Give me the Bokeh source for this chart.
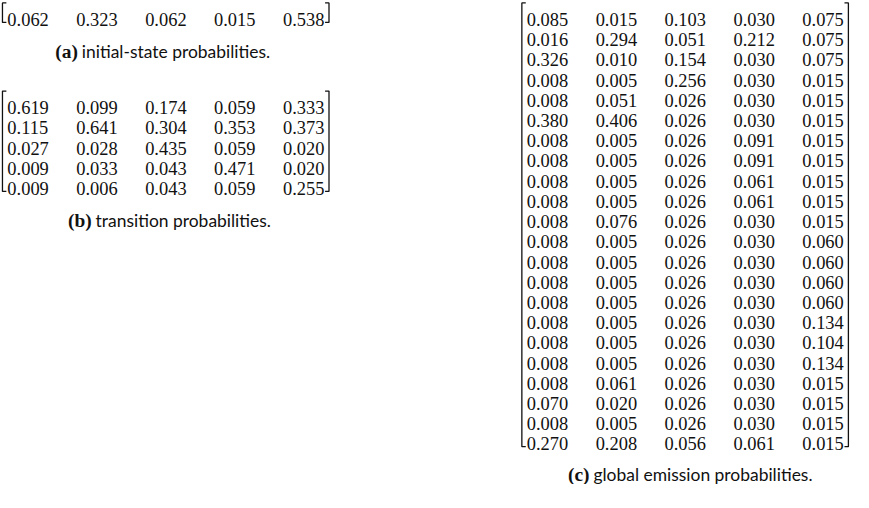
from bokeh.plotting import figure
from bokeh.models import Range1d, ColumnDataSource
from bokeh.core.properties import value
from bokeh.embed import file_html
from bokeh.resources import INLINE

# ---------------- data ----------------
initial_state = [0.062, 0.323, 0.062, 0.015, 0.538]

transition = [
    [0.619, 0.099, 0.174, 0.059, 0.333],
    [0.115, 0.641, 0.304, 0.353, 0.373],
    [0.027, 0.028, 0.435, 0.059, 0.020],
    [0.009, 0.033, 0.043, 0.471, 0.020],
    [0.009, 0.006, 0.043, 0.059, 0.255],
]

emission = [
    [0.085, 0.015, 0.103, 0.030, 0.075],
    [0.016, 0.294, 0.051, 0.212, 0.075],
    [0.326, 0.010, 0.154, 0.030, 0.075],
    [0.008, 0.005, 0.256, 0.030, 0.015],
    [0.008, 0.051, 0.026, 0.030, 0.015],
    [0.380, 0.406, 0.026, 0.030, 0.015],
    [0.008, 0.005, 0.026, 0.091, 0.015],
    [0.008, 0.005, 0.026, 0.091, 0.015],
    [0.008, 0.005, 0.026, 0.061, 0.015],
    [0.008, 0.005, 0.026, 0.061, 0.015],
    [0.008, 0.076, 0.026, 0.030, 0.015],
    [0.008, 0.005, 0.026, 0.030, 0.060],
    [0.008, 0.005, 0.026, 0.030, 0.060],
    [0.008, 0.005, 0.026, 0.030, 0.060],
    [0.008, 0.005, 0.026, 0.030, 0.060],
    [0.008, 0.005, 0.026, 0.030, 0.134],
    [0.008, 0.005, 0.026, 0.030, 0.104],
    [0.008, 0.005, 0.026, 0.030, 0.134],
    [0.008, 0.061, 0.026, 0.030, 0.015],
    [0.070, 0.020, 0.026, 0.030, 0.015],
    [0.008, 0.005, 0.026, 0.030, 0.015],
    [0.270, 0.208, 0.056, 0.061, 0.015],
]

caption_labels = ["(a)", "(b)", "(c)"]
caption_texts = ["initial-state probabilities.",
                 "transition probabilities.",
                 "global emission probabilities."]

# ---------------- layout ----------------
W, H = 853, 484
SX, SY = 0.98, 0.953      # scale so the whole page fits the window
SF = 0.97                 # font scale
X0, Y0 = 3.0, -0.5
p = figure(frame_width=W, frame_height=H, output_backend="svg",
           toolbar_location=None, x_axis_location=None, y_axis_location=None,
           title=None,
           x_range=Range1d(X0, X0 + W / SX), y_range=Range1d(Y0 + H / SY, Y0),
           min_border=0, tools="")
p.grid.visible = False
p.outline_line_color = None
p.background_fill_color = "white"
p.border_fill_color = "white"

NUM_FONT = value("Liberation Serif")
CAP_FONT = value("Lato")
INK = "#111111"
COL_STEP = 70.3
ROW_STEP = 21.2
NUM_W = 43


def px(size):
    return f"{size * SF:.2f}px"


def draw_matrix(rows, x0, y0):
    xs, ys, labels = [], [], []
    for i, row in enumerate(rows):
        for j, v in enumerate(row):
            xs.append(x0 + j * COL_STEP)
            ys.append(y0 + i * ROW_STEP)
            labels.append(f"{v:.3f}")
    src = ColumnDataSource(dict(x=xs, y=ys, t=labels))
    p.text(x="x", y="y", text="t", source=src, text_font=NUM_FONT,
           text_font_size=px(19), text_align="left",
           text_baseline="alphabetic", text_color=INK)
    ncols = len(rows[0])
    top = y0 - 17.5
    bot = y0 + (len(rows) - 1) * ROW_STEP + 3
    lx = x0 - 5
    rx = x0 + (ncols - 1) * COL_STEP + NUM_W + 4
    arm = 4
    p.multi_line(xs=[[lx + arm, lx, lx, lx + arm], [rx - arm, rx, rx, rx - arm]],
                 ys=[[top, top, bot, bot], [top, top, bot, bot]],
                 line_color=INK, line_width=1.3)
    return bot


def draw_caption(k, text_left, baseline):
    p.text(x=[text_left - 4], y=[baseline], text=[caption_labels[k]],
           text_font=NUM_FONT, text_font_style="bold", text_font_size=px(20),
           text_align="right", text_baseline="alphabetic", text_color=INK)
    p.text(x=[text_left], y=[baseline], text=[caption_texts[k]],
           text_font=CAP_FONT, text_font_size=px(18), text_align="left",
           text_baseline="alphabetic", text_color=INK)


bot_a = draw_matrix([initial_state], 10, 19.5)
draw_caption(0, 86, bot_a + 31)
bot_b = draw_matrix(transition, 10, 112)
draw_caption(1, 100, bot_b + 31)
bot_c = draw_matrix(emission, 540, 19.5)
draw_caption(2, 608, bot_c + 29)

open("out.html", "w").write(file_html(p, INLINE))
